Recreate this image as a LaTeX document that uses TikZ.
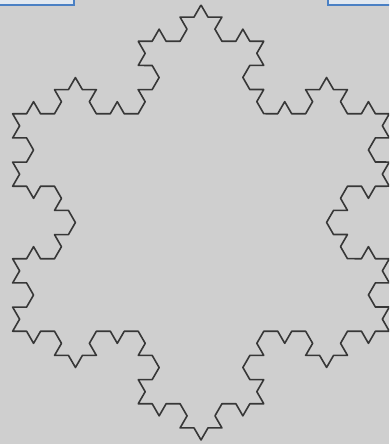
\documentclass[tikz,border=0pt]{standalone}
\usetikzlibrary{decorations.fractals}
\definecolor{bg}{RGB}{207,207,207}
\definecolor{flake}{RGB}{55,55,55}
\definecolor{boxblue}{RGB}{74,128,196}
\definecolor{boxfill}{RGB}{225,232,240}
\tikzset{
  flakeline/.style={flake, line width=1.6pt, line join=round},
  tabbox/.style={boxblue, line width=2pt, fill=boxfill}
}
\begin{document}
\begin{tikzpicture}[x=1pt,y=1pt]
\fill[bg] (0,0) rectangle (389,444);
\useasboundingbox (0,0) rectangle (389,444);
\begin{scope}
\clip (0,0) rectangle (389,444);
\draw[tabbox] (-5,439) rectangle (74,450);
\draw[tabbox] (328,439) rectangle (395,450);
\draw[flakeline, decoration=Koch snowflake]
  decorate{decorate{decorate{ (201,439) -- (389.36,112.75) -- (12.64,112.75) -- cycle }}};
\end{scope}
\end{tikzpicture}
\end{document}
